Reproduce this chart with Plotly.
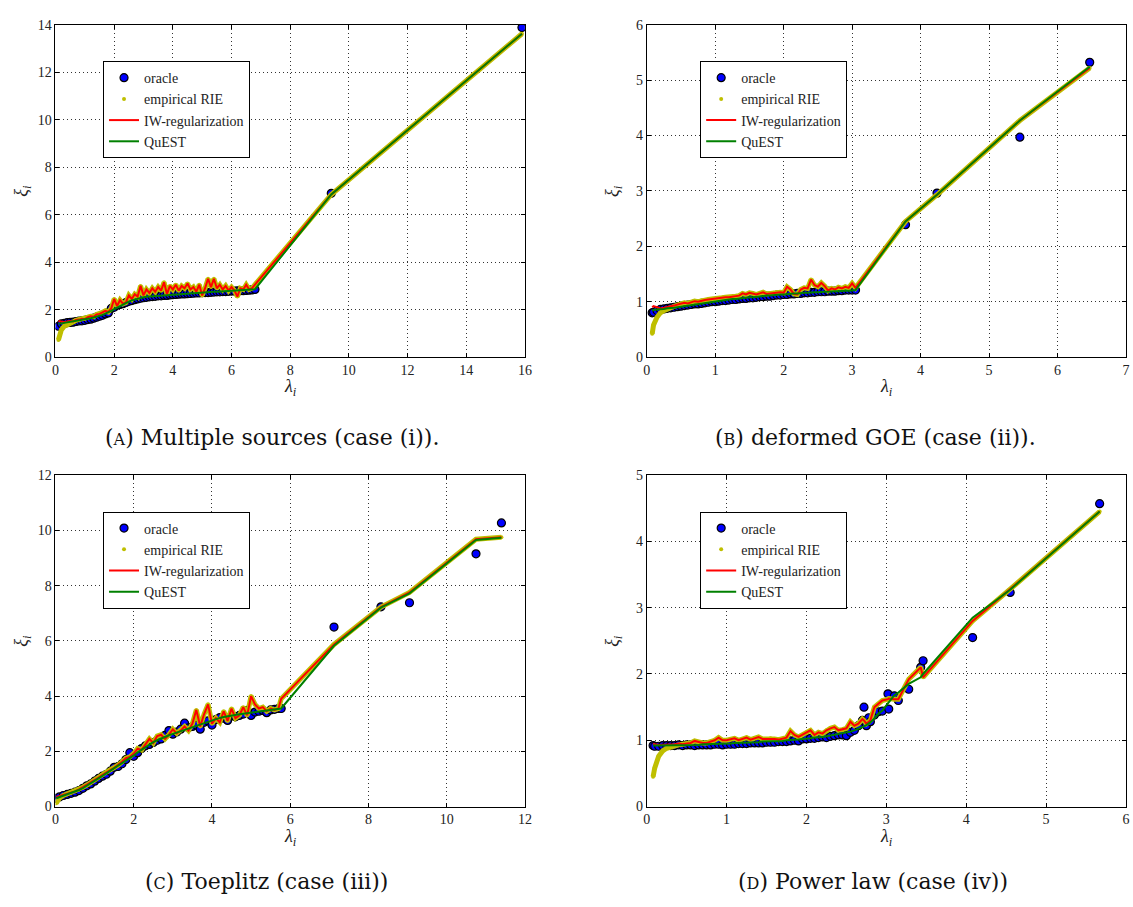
import plotly.graph_objects as go

# ---------------- (A) Multiple sources ----------------
lam_a = [
    0.10, 0.20, 0.30, 0.40, 0.50, 0.60, 0.70, 0.80, 0.90, 1.00,
    1.10, 1.20, 1.30, 1.40, 1.50, 1.60, 1.70, 1.80, 1.90, 2.00,
    2.10, 2.20, 2.30, 2.40, 2.50, 2.60, 2.70, 2.80, 2.90, 3.00,
    3.10, 3.20, 3.30, 3.40, 3.50, 3.60, 3.70, 3.80, 3.90, 4.00,
    4.10, 4.20, 4.30, 4.40, 4.50, 4.60, 4.70, 4.80, 4.90, 5.00,
    5.10, 5.20, 5.30, 5.40, 5.50, 5.60, 5.70, 5.80, 5.90, 6.00,
    6.10, 6.20, 6.30, 6.40, 6.50, 6.60, 6.70, 6.80,
    9.40, 15.90]
oracle_a = [
    1.30, 1.40, 1.42, 1.45, 1.46, 1.47, 1.50, 1.52, 1.53, 1.55,
    1.58, 1.60, 1.64, 1.68, 1.72, 1.76, 1.82, 1.86, 2.05, 2.10,
    2.18, 2.22, 2.25, 2.30, 2.35, 2.38, 2.42, 2.45, 2.48, 2.50,
    2.52, 2.54, 2.55, 2.56, 2.58, 2.58, 2.60, 2.60, 2.62, 2.63,
    2.64, 2.65, 2.66, 2.66, 2.67, 2.68, 2.69, 2.70, 2.70, 2.71,
    2.72, 2.72, 2.73, 2.74, 2.75, 2.75, 2.76, 2.76, 2.77, 2.78,
    2.78, 2.79, 2.80, 2.80, 2.81, 2.82, 2.83, 2.85,
    6.90, 13.88]
rie_a = [
    0.72, 1.15, 1.30, 1.38, 1.45, 1.48, 1.55, 1.58, 1.62, 1.60,
    1.68, 1.72, 1.70, 1.80, 1.82, 1.88, 1.95, 1.90, 2.05, 2.45,
    2.15, 2.40, 2.25, 2.30, 2.60, 2.45, 2.65, 2.55, 3.00, 2.60,
    2.85, 2.70, 2.90, 2.75, 2.95, 2.80, 3.15, 2.65, 3.00, 2.85,
    3.05, 2.80, 3.00, 2.90, 3.10, 2.85, 2.95, 2.75, 3.05, 2.60,
    2.90, 3.30, 2.95, 3.30, 2.90, 3.05, 2.85, 3.00, 2.80, 2.95,
    2.80, 2.55, 2.90, 2.85, 3.05, 2.85, 2.90, 3.05,
    6.85, 13.62]
iw_a = [
    1.52, 1.48, 1.47, 1.50, 1.52, 1.50, 1.56, 1.58, 1.62, 1.60,
    1.68, 1.72, 1.70, 1.80, 1.82, 1.88, 1.95, 1.90, 2.05, 2.45,
    2.15, 2.40, 2.25, 2.30, 2.60, 2.45, 2.65, 2.55, 3.00, 2.60,
    2.85, 2.70, 2.90, 2.75, 2.95, 2.80, 3.15, 2.65, 3.00, 2.85,
    3.05, 2.80, 3.00, 2.90, 3.10, 2.85, 2.95, 2.75, 3.05, 2.60,
    2.90, 3.30, 2.95, 3.30, 2.90, 3.05, 2.85, 3.00, 2.80, 2.95,
    2.80, 2.55, 2.90, 2.85, 3.05, 2.85, 2.90, 3.05,
    6.85, 13.62]
quest_a = [
    1.40, 1.42, 1.43, 1.45, 1.47, 1.49, 1.51, 1.53, 1.55, 1.58,
    1.61, 1.64, 1.67, 1.70, 1.74, 1.78, 1.83, 1.88, 1.95, 2.02,
    2.09, 2.16, 2.23, 2.29, 2.34, 2.39, 2.43, 2.46, 2.49, 2.52,
    2.54, 2.55, 2.56, 2.57, 2.58, 2.59, 2.60, 2.61, 2.62, 2.63,
    2.64, 2.65, 2.66, 2.67, 2.68, 2.69, 2.70, 2.71, 2.71, 2.72,
    2.73, 2.73, 2.74, 2.75, 2.75, 2.76, 2.76, 2.77, 2.78, 2.78,
    2.79, 2.79, 2.80, 2.81, 2.82, 2.83, 2.84, 2.86,
    6.85, 13.62]

# ---------------- (B) deformed GOE ----------------
lam_b = [
    0.08, 0.10, 0.15, 0.20, 0.25, 0.30, 0.35, 0.40, 0.45, 0.50,
    0.55, 0.60, 0.65, 0.70, 0.75, 0.80, 0.85, 0.90, 0.95, 1.00,
    1.05, 1.10, 1.15, 1.20, 1.25, 1.30, 1.35, 1.40, 1.45, 1.50,
    1.55, 1.60, 1.65, 1.70, 1.75, 1.80, 1.85, 1.90, 1.95, 2.00,
    2.05, 2.10, 2.15, 2.20, 2.25, 2.30, 2.35, 2.40, 2.45, 2.50,
    2.55, 2.60, 2.65, 2.70, 2.75, 2.80, 2.85, 2.90, 2.95, 3.00,
    3.05, 3.78, 4.24, 5.45, 6.47]
oracle_b = [
    0.80, 0.81, 0.84, 0.86, 0.87, 0.88, 0.89, 0.90, 0.91, 0.92,
    0.93, 0.94, 0.95, 0.96, 0.96, 0.97, 0.98, 0.99, 1.00, 1.00,
    1.01, 1.02, 1.02, 1.03, 1.04, 1.04, 1.05, 1.06, 1.06, 1.07,
    1.07, 1.08, 1.09, 1.09, 1.10, 1.10, 1.11, 1.12, 1.12, 1.13,
    1.13, 1.14, 1.14, 1.15, 1.15, 1.16, 1.16, 1.17, 1.17, 1.18,
    1.18, 1.18, 1.19, 1.19, 1.19, 1.20, 1.20, 1.21, 1.21, 1.21,
    1.21, 2.39, 2.96, 3.97, 5.32]
rie_b = [
    0.42, 0.58, 0.72, 0.80, 0.84, 0.87, 0.89, 0.92, 0.94, 0.96,
    0.98, 0.97, 0.99, 1.01, 1.00, 1.02, 1.03, 1.04, 1.05, 1.05,
    1.06, 1.07, 1.08, 1.08, 1.09, 1.10, 1.11, 1.15, 1.13, 1.16,
    1.15, 1.13, 1.15, 1.17, 1.14, 1.15, 1.16, 1.17, 1.17, 1.16,
    1.27, 1.22, 1.14, 1.13, 1.22, 1.25, 1.24, 1.40, 1.30, 1.27,
    1.34, 1.28, 1.20, 1.24, 1.22, 1.26, 1.24, 1.27, 1.25, 1.33,
    1.25, 2.45, 2.93, 4.27, 5.22]
iw_b = [
    0.90, 0.92, 0.90, 0.88, 0.89, 0.90, 0.92, 0.93, 0.95, 0.96,
    0.98, 0.97, 0.99, 1.01, 1.00, 1.02, 1.03, 1.04, 1.05, 1.05,
    1.06, 1.07, 1.08, 1.08, 1.09, 1.10, 1.11, 1.15, 1.13, 1.16,
    1.15, 1.13, 1.15, 1.17, 1.14, 1.15, 1.16, 1.17, 1.17, 1.16,
    1.27, 1.22, 1.14, 1.13, 1.22, 1.25, 1.24, 1.40, 1.30, 1.27,
    1.34, 1.28, 1.20, 1.24, 1.22, 1.26, 1.24, 1.27, 1.25, 1.33,
    1.25, 2.45, 2.93, 4.27, 5.22]
quest_b = [
    0.84, 0.85, 0.86, 0.86, 0.87, 0.88, 0.88, 0.89, 0.90, 0.91,
    0.92, 0.93, 0.94, 0.95, 0.96, 0.97, 0.98, 0.99, 1.00, 1.01,
    1.02, 1.02, 1.03, 1.04, 1.05, 1.05, 1.06, 1.07, 1.07, 1.08,
    1.08, 1.09, 1.10, 1.10, 1.11, 1.11, 1.12, 1.12, 1.13, 1.13,
    1.14, 1.14, 1.15, 1.15, 1.16, 1.16, 1.16, 1.17, 1.17, 1.17,
    1.18, 1.18, 1.18, 1.19, 1.19, 1.19, 1.20, 1.20, 1.20, 1.20,
    1.21, 2.45, 2.93, 4.27, 5.24]

# ---------------- (C) Toeplitz ----------------
lam_c = [
    0.02, 0.10, 0.20, 0.30, 0.40, 0.50, 0.60, 0.70, 0.80, 0.90,
    1.00, 1.10, 1.20, 1.30, 1.40, 1.50, 1.60, 1.70, 1.80, 1.90,
    2.00, 2.10, 2.20, 2.30, 2.40, 2.50, 2.60, 2.70, 2.80, 2.90,
    3.00, 3.10, 3.20, 3.30, 3.40, 3.50, 3.60, 3.70, 3.80, 3.90,
    4.00, 4.10, 4.20, 4.30, 4.40, 4.50, 4.60, 4.70, 4.80, 4.90,
    5.00, 5.10, 5.20, 5.30, 5.40, 5.50, 5.60, 5.70, 5.77,
    7.12, 8.32, 9.05, 10.75, 11.40]
oracle_c = [
    0.30, 0.35, 0.40, 0.44, 0.48, 0.52, 0.58, 0.66, 0.75, 0.82,
    0.92, 1.02, 1.10, 1.17, 1.28, 1.42, 1.45, 1.55, 1.70, 1.95,
    1.82, 1.95, 2.10, 2.20, 2.25, 2.32, 2.40, 2.45, 2.58, 2.75,
    2.62, 2.70, 2.80, 3.02, 2.85, 2.90, 2.95, 2.80, 3.05, 3.10,
    2.95, 3.15, 3.22, 3.20, 3.12, 3.28, 3.25, 3.30, 3.35, 3.48,
    3.30, 3.42, 3.45, 3.48, 3.40, 3.50, 3.52, 3.55, 3.55,
    6.50, 7.23, 7.38, 9.15, 10.27]
rie_c = [
    0.12, 0.30, 0.40, 0.46, 0.50, 0.55, 0.62, 0.70, 0.78, 0.86,
    0.95, 1.05, 1.15, 1.25, 1.32, 1.40, 1.50, 1.62, 1.75, 1.80,
    1.92, 2.10, 2.05, 2.25, 2.45, 2.30, 2.55, 2.60, 2.45, 2.60,
    2.80, 2.65, 2.75, 2.90, 2.75, 3.00, 3.50, 2.90, 3.35, 3.70,
    3.00, 3.20, 3.05, 3.45, 3.10, 3.55, 3.20, 3.30, 3.60, 3.30,
    4.00, 3.70, 3.55, 3.60, 3.45, 3.55, 3.50, 3.55, 3.90,
    5.87, 7.22, 7.75, 9.68, 9.75]
iw_c = [
    0.35, 0.38, 0.42, 0.46, 0.50, 0.55, 0.62, 0.70, 0.78, 0.86,
    0.95, 1.05, 1.15, 1.25, 1.32, 1.40, 1.50, 1.62, 1.75, 1.80,
    1.92, 2.10, 2.05, 2.25, 2.45, 2.30, 2.55, 2.60, 2.45, 2.60,
    2.80, 2.65, 2.75, 2.90, 2.75, 3.00, 3.50, 2.90, 3.35, 3.70,
    3.00, 3.20, 3.05, 3.45, 3.10, 3.55, 3.20, 3.30, 3.60, 3.30,
    4.00, 3.70, 3.55, 3.60, 3.45, 3.55, 3.50, 3.55, 3.90,
    5.87, 7.22, 7.75, 9.68, 9.75]
quest_c = [
    0.30, 0.34, 0.38, 0.43, 0.48, 0.53, 0.60, 0.67, 0.75, 0.84,
    0.93, 1.02, 1.11, 1.20, 1.29, 1.38, 1.47, 1.56, 1.65, 1.74,
    1.85, 1.96, 2.06, 2.16, 2.25, 2.33, 2.40, 2.47, 2.53, 2.58,
    2.63, 2.68, 2.73, 2.78, 2.83, 2.88, 2.92, 2.97, 3.02, 3.07,
    3.12, 3.17, 3.21, 3.24, 3.27, 3.30, 3.32, 3.34, 3.36, 3.38,
    3.40, 3.42, 3.44, 3.46, 3.48, 3.50, 3.52, 3.54, 3.55,
    5.82, 7.20, 7.72, 9.65, 9.73]

# ---------------- (D) Power law ----------------
lam_d = [
    0.08, 0.10, 0.15, 0.20, 0.25, 0.30, 0.35, 0.40, 0.45, 0.50,
    0.55, 0.60, 0.65, 0.70, 0.75, 0.80, 0.85, 0.90, 0.95, 1.00,
    1.05, 1.10, 1.15, 1.20, 1.25, 1.30, 1.35, 1.40, 1.45, 1.50,
    1.55, 1.60, 1.65, 1.70, 1.75, 1.80, 1.85, 1.90, 1.95, 2.00,
    2.05, 2.10, 2.15, 2.20, 2.25, 2.30, 2.35, 2.40, 2.45, 2.50,
    2.55, 2.60, 2.65, 2.70, 2.72, 2.75, 2.78, 2.80, 2.85, 2.90,
    2.95, 3.02, 3.03, 3.10, 3.15, 3.28, 3.43, 3.46, 4.08, 4.55,
    5.67]
oracle_d = [
    0.92, 0.91, 0.91, 0.92, 0.92, 0.92, 0.92, 0.93, 0.92, 0.93,
    0.93, 0.92, 0.93, 0.93, 0.93, 0.93, 0.94, 0.94, 0.93, 0.94,
    0.94, 0.94, 0.95, 0.95, 0.95, 0.96, 0.96, 0.96, 0.96, 0.97,
    0.97, 0.97, 0.98, 0.98, 0.98, 0.99, 1.00, 0.99, 1.02, 1.02,
    1.03, 1.03, 1.04, 1.05, 1.04, 1.06, 1.07, 1.08, 1.08, 1.07,
    1.12, 1.15, 1.22, 1.30, 1.50, 1.22, 1.34, 1.28, 1.38, 1.43,
    1.44, 1.70, 1.47, 1.67, 1.60, 1.77, 2.10, 2.20, 2.55, 3.23,
    4.57]
rie_d = [
    0.45, 0.58, 0.76, 0.84, 0.88, 0.90, 0.91, 0.93, 0.94, 0.95,
    0.96, 0.99, 0.97, 0.96, 0.96, 0.98, 1.00, 1.04, 1.00, 1.00,
    1.02, 1.03, 1.00, 1.02, 1.04, 1.01, 1.03, 1.05, 1.02, 1.02,
    1.03, 1.02, 1.01, 1.02, 1.04, 1.14, 1.08, 1.05, 1.08, 1.12,
    1.15, 1.08, 1.12, 1.10, 1.15, 1.18, 1.20, 1.15, 1.16, 1.18,
    1.28, 1.22, 1.25, 1.32, 1.30, 1.25, 1.28, 1.30, 1.50, 1.55,
    1.60, 1.62, 1.63, 1.62, 1.62, 1.92, 2.10, 1.95, 2.80, 3.28,
    4.45]
iw_d = [
    0.95, 0.94, 0.93, 0.93, 0.93, 0.94, 0.94, 0.95, 0.94, 0.95,
    0.96, 0.99, 0.97, 0.96, 0.96, 0.98, 1.00, 1.04, 1.00, 1.00,
    1.02, 1.03, 1.00, 1.02, 1.04, 1.01, 1.03, 1.05, 1.02, 1.02,
    1.03, 1.02, 1.01, 1.02, 1.04, 1.14, 1.08, 1.05, 1.08, 1.12,
    1.15, 1.08, 1.12, 1.10, 1.15, 1.18, 1.20, 1.15, 1.16, 1.18,
    1.28, 1.22, 1.25, 1.32, 1.30, 1.25, 1.28, 1.30, 1.50, 1.55,
    1.60, 1.62, 1.63, 1.62, 1.62, 1.92, 2.10, 1.95, 2.80, 3.28,
    4.45]
quest_d = [
    0.92, 0.92, 0.92, 0.92, 0.92, 0.92, 0.92, 0.93, 0.93, 0.93,
    0.93, 0.93, 0.93, 0.94, 0.94, 0.94, 0.94, 0.95, 0.95, 0.95,
    0.95, 0.96, 0.96, 0.96, 0.96, 0.97, 0.97, 0.97, 0.98, 0.98,
    0.98, 0.99, 0.99, 0.99, 1.00, 1.00, 1.01, 1.01, 1.02, 1.02,
    1.03, 1.04, 1.04, 1.05, 1.06, 1.07, 1.08, 1.09, 1.10, 1.11,
    1.13, 1.15, 1.17, 1.20, 1.21, 1.23, 1.25, 1.27, 1.33, 1.40,
    1.45, 1.55, 1.58, 1.68, 1.72, 1.85, 1.95, 2.00, 2.85, 3.27,
    4.45]

captions = [
    "(<span style='font-size:16px'>A</span>) Multiple sources (case (i)).",
    "(<span style='font-size:16px'>B</span>) deformed GOE (case (ii)).",
    "(<span style='font-size:16px'>C</span>) Toeplitz (case (iii))",
    "(<span style='font-size:16px'>D</span>) Power law (case (iv))",
]
x_ranges = [[0, 16], [0, 7], [0, 12], [0, 6]]
y_ranges = [[0, 14], [0, 6], [0, 12], [0, 5]]
x_dtick = [2, 1, 2, 1]
y_dtick = [2, 1, 2, 1]

W, H = 1133, 907
SERIF = "Liberation Serif"
WIDE_SERIF = "DejaVu Serif"

# pixel boxes of the four panels: (left, right, top, bottom)
boxes = [(52, 526, 18, 356), (649, 1133, 18, 356),
         (52, 526, 476, 813), (649, 1133, 476, 813)]
legend_pos = [(100, 55), (703, 55), (100, 513), (703, 513)]
caption_pos = [(271, 438), (880, 438), (265, 889), (878, 889)]

panels = [
    (lam_a, oracle_a, rie_a, iw_a, quest_a),
    (lam_b, oracle_b, rie_b, iw_b, quest_b),
    (lam_c, oracle_c, rie_c, iw_c, quest_c),
    (lam_d, oracle_d, rie_d, iw_d, quest_d),
]

fig = go.Figure()
layout = {}
annotations = []
for k, (lam, orc, rie, iw, qu) in enumerate(panels):
    n = k + 1
    xa = "x" if n == 1 else f"x{n}"
    ya = "y" if n == 1 else f"y{n}"
    lg = "legend" if n == 1 else f"legend{n}"
    common = dict(xaxis=xa, yaxis=ya, legend=lg)
    fig.add_trace(go.Scatter(
        x=lam, y=orc, mode="markers", name="oracle",
        marker=dict(color="#0000ff", size=8, line=dict(color="black", width=1.2)),
        **common))
    fig.add_trace(go.Scatter(
        x=lam, y=rie, mode="lines", showlegend=False,
        line=dict(color="#bfbf00", width=5), **common))
    fig.add_trace(go.Scatter(
        x=lam, y=rie, mode="markers", name="empirical RIE",
        marker=dict(color="#bfbf00", size=4), **common))
    fig.add_trace(go.Scatter(
        x=lam, y=iw, mode="lines", name="IW-regularization",
        line=dict(color="#ff0000", width=2), **common))
    fig.add_trace(go.Scatter(
        x=lam, y=qu, mode="lines", name="QuEST",
        line=dict(color="#008000", width=2), **common))

    l, r, t, b = boxes[k]
    axis_style = dict(
        showline=True, linecolor="black", linewidth=1, mirror="ticks",
        ticks="inside", ticklen=4, tickcolor="black",
        showgrid=True, gridcolor="#333", griddash="1px,3px", gridwidth=1,
        zeroline=False, tickfont=dict(family=SERIF, size=14, color="#222"),
    )
    layout["xaxis" if n == 1 else f"xaxis{n}"] = dict(
        domain=[l / W, r / W], range=x_ranges[k], dtick=x_dtick[k],
        tick0=0, anchor=ya, **axis_style)
    layout["yaxis" if n == 1 else f"yaxis{n}"] = dict(
        domain=[1 - b / H, 1 - t / H], range=y_ranges[k], dtick=y_dtick[k],
        tick0=0, anchor=xa, **axis_style)
    lx, ly = legend_pos[k]
    layout[lg] = dict(
        x=lx / W, y=1 - ly / H, xanchor="left", yanchor="top",
        bgcolor="white", bordercolor="black", borderwidth=1,
        font=dict(family=SERIF, size=14, color="#222"),
        tracegroupgap=0, itemwidth=30)

    # axis titles
    annotations.append(dict(
        xref="paper", yref="paper", x=(l + r) / 2 / W, y=1 - (b + 31) / H,
        text="<i>λ</i><sub><i>i</i></sub>", showarrow=False,
        xanchor="center", yanchor="middle",
        font=dict(family=SERIF, size=18, color="#222")))
    annotations.append(dict(
        xref="paper", yref="paper", x=(l - 33) / W, y=1 - (t + b) / 2 / H,
        text="<i>ξ</i><sub><i>i</i></sub>", showarrow=False, textangle=-90,
        xanchor="center", yanchor="middle",
        font=dict(family=SERIF, size=18, color="#222")))
    cx, cy = caption_pos[k]
    annotations.append(dict(
        xref="paper", yref="paper", x=cx / W, y=1 - cy / H,
        text=captions[k], showarrow=False, xanchor="center", yanchor="middle",
        font=dict(family=WIDE_SERIF, size=22, color="#111")))

fig.update_layout(
    width=W, height=H, margin=dict(l=0, r=0, t=0, b=0),
    paper_bgcolor="white", plot_bgcolor="white",
    font=dict(family=SERIF),
    annotations=annotations, **layout)

fig.write_html("out.html")
